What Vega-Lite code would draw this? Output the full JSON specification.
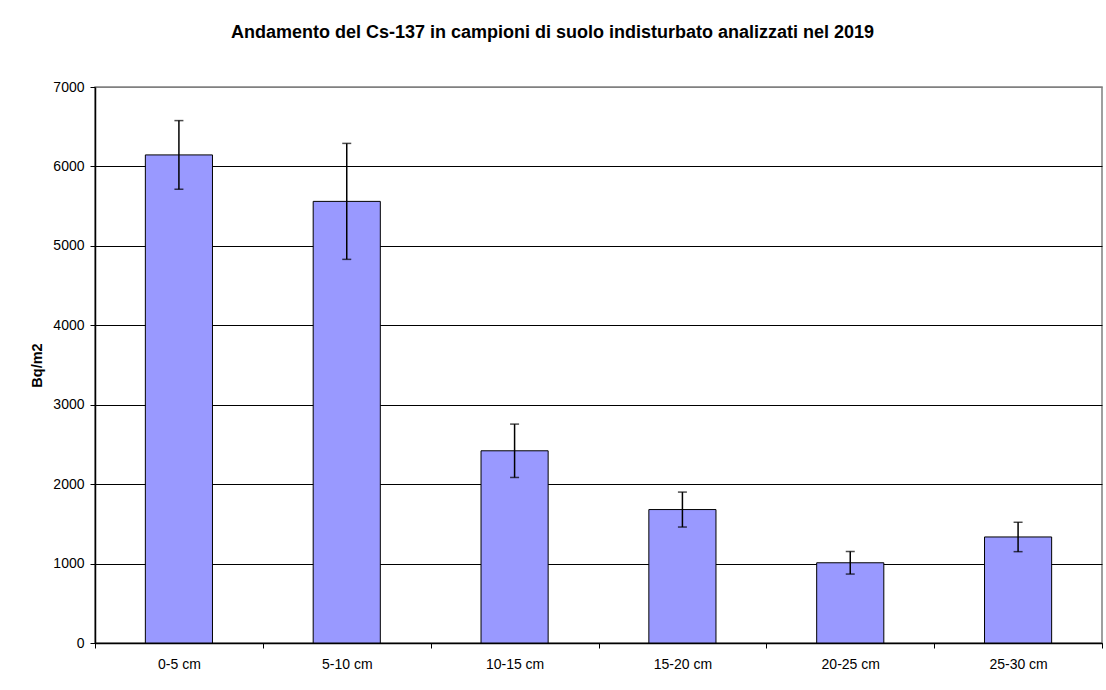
{
  "$schema": "https://vega.github.io/schema/vega-lite/v6.json",
  "width": 1007,
  "height": 556,
  "autosize": {"type": "none"},
  "padding": {"left": 95, "top": 87, "right": 4, "bottom": 47},
  "background": "white",
  "title": {
    "text": "Andamento del Cs-137 in campioni di suolo indisturbato analizzati nel 2019",
    "font": "Liberation Sans",
    "fontSize": 18,
    "fontWeight": "bold",
    "color": "black",
    "anchor": "middle",
    "dx": -46,
    "offset": 38
  },
  "data": {
    "values": [
      {"depth": "0-5 cm", "value": 6145, "lo": 5713, "hi": 6577},
      {"depth": "5-10 cm", "value": 5560, "lo": 4830, "hi": 6290},
      {"depth": "10-15 cm", "value": 2420, "lo": 2084, "hi": 2756},
      {"depth": "15-20 cm", "value": 1680, "lo": 1460, "hi": 1900},
      {"depth": "20-25 cm", "value": 1010, "lo": 868, "hi": 1152},
      {"depth": "25-30 cm", "value": 1335, "lo": 1150, "hi": 1520}
    ]
  },
  "config": {
    "view": {"stroke": "#808080", "strokeWidth": 1.5},
    "axis": {
      "labelFont": "Liberation Sans",
      "titleFont": "Liberation Sans",
      "labelColor": "black",
      "titleColor": "black",
      "domainColor": "black",
      "domainWidth": 1.5,
      "tickColor": "black",
      "labelFontSize": 14
    }
  },
  "encoding": {
    "x": {
      "field": "depth",
      "type": "nominal",
      "sort": null,
      "scale": {"paddingInner": 0, "paddingOuter": 0},
      "axis": {
        "title": null,
        "labelAngle": 0,
        "tickSize": 5,
        "tickBand": "extent",
        "labelPadding": 9,
        "grid": false
      }
    }
  },
  "layer": [
    {
      "mark": {"type": "bar", "fill": "#9999ff", "stroke": "black", "strokeWidth": 1, "width": {"band": 0.4}},
      "encoding": {
        "y": {
          "field": "value",
          "type": "quantitative",
          "title": "Bq/m2",
          "scale": {"domain": [0, 7000], "nice": false},
          "axis": {
            "values": [0, 1000, 2000, 3000, 4000, 5000, 6000, 7000],
            "format": "d",
            "grid": true,
            "gridColor": {"condition": {"test": "datum.value == 7000", "value": "#808080"}, "value": "black"},
            "gridWidth": 1,
            "tickSize": 5,
            "labelPadding": 6,
            "titleFontSize": 14.5,
            "titleFontWeight": "bold",
            "titlePadding": 8
          }
        }
      }
    },
    {
      "mark": {"type": "rule", "color": "black", "strokeWidth": 1.5},
      "encoding": {
        "y": {"field": "lo", "type": "quantitative", "title": "Bq/m2"},
        "y2": {"field": "hi"}
      }
    },
    {
      "mark": {"type": "tick", "color": "black", "size": 9, "thickness": 1.5},
      "encoding": {
        "y": {"field": "lo", "type": "quantitative", "title": "Bq/m2"}
      }
    },
    {
      "mark": {"type": "tick", "color": "black", "size": 9, "thickness": 1.5},
      "encoding": {
        "y": {"field": "hi", "type": "quantitative", "title": "Bq/m2"}
      }
    }
  ]
}
